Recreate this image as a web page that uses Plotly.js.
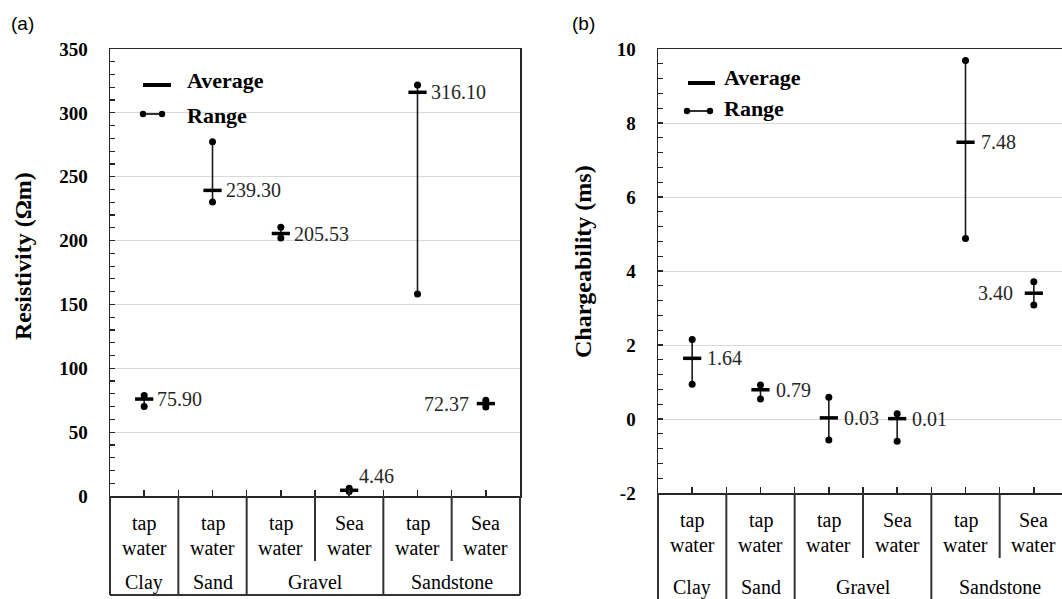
<!DOCTYPE html>
<html>
<head>
<meta charset="utf-8">
<script src="https://cdn.plot.ly/plotly-3.0.1.min.js"></script>
<style>html,body{margin:0;padding:0;background:#fff;}#chart{width:1062px;height:599px;}</style>
</head>
<body>
<div id="chart"></div>
<script>
// ---------------- data ----------------
const waterTypes = ["tap water", "tap water", "tap water", "Sea water", "tap water", "Sea water"];
const materials = ["Clay", "Sand", "Gravel", "Sandstone"];
const materialSpans = [1, 1, 2, 2];

const resAvg = [75.90, 239.30, 205.53, 4.46, 316.10, 72.37];
const resMin = [70.0, 230.2, 202.0, 3.5, 158.2, 69.6];
const resMax = [78.6, 277.4, 210.4, 6.0, 321.8, 75.0];

const chgAvg = [1.64, 0.79, 0.03, 0.01, 7.48, 3.40];
const chgMin = [0.94, 0.54, -0.57, -0.60, 4.88, 3.08];
const chgMax = [2.15, 0.92, 0.59, 0.14, 9.69, 3.71];

const resTicks = [0, 50, 100, 150, 200, 250, 300, 350];
const chgTicks = [-2, 0, 2, 4, 6, 8, 10];

// ---------------- layout helpers ----------------
const W = 1062, H = 599;
const X = p => p / W;
const Y = p => 1 - p / H;
const SERIF = "Liberation Serif";
const AX = "#262626";

const panels = [
  {xa: "x", ya: "y", left: 110, top: 49, bottom: 496, avg: resAvg, min: resMin, max: resMax,
   ticks: resTicks, minor: 10, title: "Resistivity (Ωm)", titleX: 23, titleY: 256,
   tag: "(a)", tagX: 22, tagY: 24, tableBottom: 595, groupY: 582,
   legend: {avg: [143, 171, 85], avgText: [185, 80], rng: [143, 162, 114], rngText: [185, 115]},
   labelPos: ["r", "r", "r", "up", "r", "l"], rshift: 11, lshift: 15},
  {xa: "x2", ya: "y2", left: 658, top: 49, bottom: 493, avg: chgAvg, min: chgMin, max: chgMax,
   ticks: chgTicks, minor: 0.4, title: "Chargeability (ms)", titleX: 583, titleY: 262,
   tag: "(b)", tagX: 583, tagY: 24, tableBottom: 601, groupY: 587,
   legend: {avg: [688, 715, 83], avgText: [722, 77], rng: [687, 710, 111], rngText: [722, 109]},
   labelPos: ["r", "r", "r", "r", "r", "l"], rshift: 13, lshift: 19}
];
const colW = 410 / waterTypes.length;

const data = [];
const shapes = [];
const annotations = [];
const layout = {
  width: W, height: H, margin: {l: 0, r: 0, t: 0, b: 0},
  paper_bgcolor: "#fff", plot_bgcolor: "#fff", showlegend: false,
  font: {family: SERIF},
  shapes: shapes, annotations: annotations
};

panels.forEach((P, pi) => {
  const n = waterTypes.length;
  const idx = waterTypes.map((_, i) => i);
  const right = Math.min(W, P.left + 410);
  const r0 = -0.5, r1 = -0.5 + (right - P.left) / colW;
  const domH = P.bottom - P.top;
  const dy = px => -(px - P.bottom) / domH; // pixel -> y-domain fraction
  const dx = v => (v - r0) / (r1 - r0);      // data x -> x-domain fraction

  const xKey = pi === 0 ? "xaxis" : "xaxis2";
  const yKey = pi === 0 ? "yaxis" : "yaxis2";
  const tickvals = [];
  for (let i = 0; i <= n; i++) { tickvals.push(i - 0.5); if (i < n) tickvals.push(i); }

  layout[xKey] = {
    domain: [X(P.left), X(right)], range: [r0, r1], anchor: P.ya,
    showline: true, mirror: true, linecolor: AX, linewidth: 1.5,
    ticks: "inside", tickvals: tickvals, ticklen: 6, tickcolor: AX, tickwidth: 1.5,
    showticklabels: false, showgrid: false, zeroline: false, fixedrange: true
  };
  const yr = [P.ticks[0], P.ticks[P.ticks.length - 1]];
  layout[yKey] = {
    domain: [Y(P.bottom), Y(P.top)], range: yr, anchor: P.xa,
    tickvals: P.ticks, ticktext: P.ticks.map(String),
    showline: true, mirror: pi === 0, linecolor: AX, linewidth: 1.5,
    ticks: "inside", ticklen: 5, tickcolor: AX, tickwidth: 1.2,
    minor: {dtick: P.minor, tick0: yr[0], ticks: "inside", ticklen: 5, tickcolor: AX, tickwidth: 1.2, showgrid: false},
    showgrid: true, gridcolor: "#d9d9d9", gridwidth: 1, zeroline: false,
    tickfont: {family: SERIF, size: 19, color: "#000", weight: "bold"},
    ticklabelstandoff: 17, fixedrange: true
  };

  // range lines
  const lx = [], ly = [];
  idx.forEach(i => { lx.push(i, i, null); ly.push(P.min[i], P.max[i], null); });
  data.push({type: "scatter", mode: "lines", xaxis: P.xa, yaxis: P.ya, x: lx, y: ly,
    line: {color: "#1a1a1a", width: 1.6}, hoverinfo: "skip"});
  // range end dots
  data.push({type: "scatter", mode: "markers", xaxis: P.xa, yaxis: P.ya,
    x: idx.concat(idx), y: P.min.concat(P.max),
    marker: {symbol: "circle", size: 7, color: "#000"}, hoverinfo: "skip"});
  // averages
  data.push({type: "scatter", mode: "markers", xaxis: P.xa, yaxis: P.ya, x: idx, y: P.avg,
    marker: {symbol: "line-ew", size: 13, line: {color: "#000", width: 3.5}}});

  // value labels
  idx.forEach(i => {
    const pos = P.labelPos[i];
    const a = {xref: P.xa, yref: P.ya, x: i, y: P.avg[i], text: P.avg[i].toFixed(2),
      showarrow: false, font: {family: SERIF, size: 20, color: "#262626"}, yanchor: "middle"};
    if (pos === "r") { a.xanchor = "left"; a.xshift = P.rshift; }
    else if (pos === "l") { a.xanchor = "right"; a.xshift = -P.lshift; }
    else { a.xanchor = "left"; a.xshift = 8; a.yshift = 14; }
    annotations.push(a);
  });

  // category table
  const lineStyle = {color: "#333", width: 2};
  const xd = P.xa + " domain", yd = P.ya + " domain";
  const bottomF = dy(P.tableBottom);
  shapes.push({type: "line", xref: xd, yref: yd, x0: dx(-0.5), x1: dx(-0.5), y0: 0, y1: bottomF, line: lineStyle});
  shapes.push({type: "line", xref: xd, yref: yd, x0: dx(n - 0.5), x1: dx(n - 0.5), y0: 0, y1: bottomF, line: lineStyle});
  shapes.push({type: "line", xref: xd, yref: yd, x0: dx(-0.5), x1: dx(n - 0.5), y0: bottomF, y1: bottomF, line: lineStyle});
  let start = 0;
  materials.forEach((m, gi) => {
    const span = materialSpans[gi];
    const end = start + span;
    if (end < n) shapes.push({type: "line", xref: xd, yref: yd, x0: dx(end - 0.5), x1: dx(end - 0.5), y0: 0, y1: bottomF, line: lineStyle});
    for (let k = start + 1; k < end; k++) {
      shapes.push({type: "line", xref: xd, yref: yd, x0: dx(k - 0.5), x1: dx(k - 0.5), y0: 0, y1: dy(P.bottom + 65), line: lineStyle});
    }
    annotations.push({xref: P.xa, yref: yd, x: start + (span - 1) / 2, y: dy(P.groupY), text: m,
      showarrow: false, xanchor: "center", yanchor: "middle", font: {family: SERIF, size: 20, color: "#000"}});
    start = end;
  });
  waterTypes.forEach((wt, i) => {
    const parts = wt.split(" ");
    annotations.push({xref: P.xa, yref: yd, x: i, y: dy(P.bottom + 27), text: parts[0],
      showarrow: false, xanchor: "center", yanchor: "middle", font: {family: SERIF, size: 20, color: "#000"}});
    annotations.push({xref: P.xa, yref: yd, x: i, y: dy(P.bottom + 52), text: parts[1],
      showarrow: false, xanchor: "center", yanchor: "middle", font: {family: SERIF, size: 20, color: "#000"}});
  });

  annotations.push({xref: "paper", yref: "paper", x: X(P.titleX), y: Y(P.titleY), text: P.title,
    textangle: -90, showarrow: false, xanchor: "center", yanchor: "middle",
    font: {family: SERIF, size: 24, color: "#000", weight: "bold"}});
  annotations.push({xref: "paper", yref: "paper", x: X(P.tagX), y: Y(P.tagY), text: P.tag,
    showarrow: false, xanchor: "center", yanchor: "middle",
    font: {family: "Liberation Sans", size: 19, color: "#000"}});

  const L = P.legend;
  shapes.push({type: "line", xref: "paper", yref: "paper", x0: X(L.avg[0]), x1: X(L.avg[1]), y0: Y(L.avg[2]), y1: Y(L.avg[2]), line: {color: "#000", width: 4}});
  shapes.push({type: "line", xref: "paper", yref: "paper", x0: X(L.rng[0]), x1: X(L.rng[1]), y0: Y(L.rng[2]), y1: Y(L.rng[2]), line: {color: "#000", width: 1.6}});
  [L.rng[0], L.rng[1]].forEach(cx => {
    shapes.push({type: "circle", xref: "paper", yref: "paper", x0: X(cx - 3.2), x1: X(cx + 3.2), y0: Y(L.rng[2] + 3.2), y1: Y(L.rng[2] - 3.2), fillcolor: "#000", line: {width: 0}});
  });
  annotations.push({xref: "paper", yref: "paper", x: X(L.avgText[0]), y: Y(L.avgText[1]), text: "Average",
    showarrow: false, xanchor: "left", yanchor: "middle", font: {family: SERIF, size: 22, color: "#000", weight: "bold"}});
  annotations.push({xref: "paper", yref: "paper", x: X(L.rngText[0]), y: Y(L.rngText[1]), text: "Range",
    showarrow: false, xanchor: "left", yanchor: "middle", font: {family: SERIF, size: 22, color: "#000", weight: "bold"}});
});

Plotly.newPlot("chart", data, layout, {staticPlot: true, displayModeBar: false});
</script>
</body>
</html>
